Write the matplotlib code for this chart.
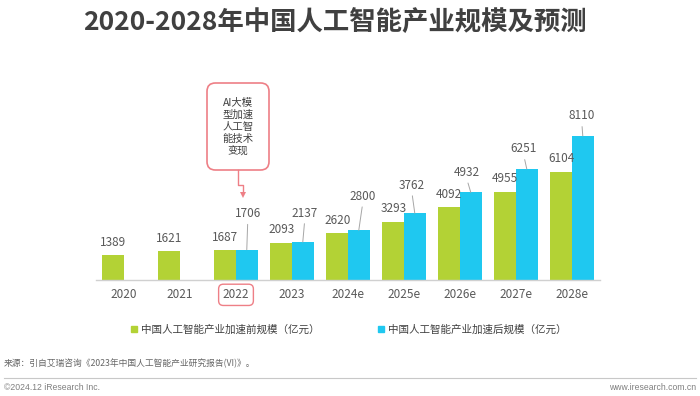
"""2020-2028 China AI industry scale chart, grouped bars with callout."""

import numpy as np
import matplotlib

matplotlib.use("Agg")
import matplotlib.pyplot as plt
from matplotlib.lines import Line2D
from matplotlib.patches import FancyBboxPatch, FancyArrow

plt.rcParams["font.family"] = ["Noto Sans CJK SC", "DejaVu Sans"]

# data
years = ["2020", "2021", "2022", "2023", "2024e", "2025e", "2026e", "2027e", "2028e"]
before_accel = [1389, 1621, 1687, 2093, 2620, 3293, 4092, 4955, 6104]
after_accel = [np.nan, np.nan, 1706, 2137, 2800, 3762, 4932, 6251, 8110]
series_names = ["中国人工智能产业加速前规模（亿元）", "中国人工智能产业加速后规模（亿元）"]
title = "2020-2028年中国人工智能产业规模及预测"
callout = "AI大模\n型加速\n人工智\n能技术\n变现"
source = "来源：引自艾瑞咨询《2023年中国人工智能产业研究报告(VI)》。"

# label nudges for the blue series (pixels: dx, dy above bar top)
blue_offsets = [None, None, (1, 36), (2, 29), (4, 34), (-3, 28), (-4, 20), (-3, 20), (-1, 20)]

GREEN = "#B3D235"
BLUE = "#1FC8F0"
PINK = "#EE7F86"
TEXT = "#595959"

W, H = 700, 396
PT = 72 / 100  # points per pixel at dpi 100


def fx(x):
    return x / W


def fy(y):
    return 1 - y / H


fig = plt.figure(figsize=(7.0, 3.96), dpi=100)
ax = fig.add_axes([fx(96), fy(280), 504 / W, 177.6 / H])

x = np.arange(len(years))
w = 0.385
ax.bar(x - w / 2, before_accel, w, color=GREEN)
ax.bar(x + w / 2, after_accel, w, color=BLUE)

for xi, v in zip(x, before_accel):
    ax.annotate(f"{v}", (xi - w / 2, v), xytext=(0, 13 * PT), textcoords="offset points",
                ha="center", va="center", fontsize=8.5, color=TEXT)

for xi, v, off in zip(x, after_accel, blue_offsets):
    if np.isnan(v):
        continue
    dx, dy = off
    ax.annotate(f"{int(v)}", (xi + w / 2, v), xytext=(dx * PT, dy * PT),
                textcoords="offset points", ha="center", va="center", fontsize=8.5,
                color=TEXT,
                arrowprops=dict(arrowstyle="-", color="#A6A6A6", lw=0.7,
                                relpos=(0.5, 0.0), shrinkA=1, shrinkB=0))

ax.set_xlim(-0.5, len(years) - 0.5)
ax.set_ylim(0, 10000)
ax.set_xticks(x, years)
ax.tick_params(axis="x", length=0, pad=6, labelsize=8.5, labelcolor=TEXT)
ax.set_yticks([])
for side in ("left", "right", "top"):
    ax.spines[side].set_visible(False)
ax.spines["bottom"].set_color("#D0D0D0")
ax.spines["bottom"].set_linewidth(1.0)

# 2022 highlighted tick label
ax.get_xticklabels()[years.index("2022")].set_bbox(
    dict(boxstyle="round,pad=0.35,rounding_size=0.4", fc="none", ec=PINK, lw=1.0))

# title
fig.text(fx(335), fy(23), title, ha="center", va="center", fontsize=19,
         fontweight="bold", color="#404040")

# callout box and elbow arrow
box = FancyBboxPatch((fx(207), fy(170)), fx(62), 87 / H,
                     boxstyle="round,pad=0,rounding_size=0.012",
                     transform=fig.transFigure, fc="white", ec=PINK, lw=1.2,
                     mutation_aspect=W / H)
fig.add_artist(box)
fig.text(fx(238), fy(127), callout, ha="center", va="center", fontsize=7.5,
         color="#404040", linespacing=1.26)
fig.add_artist(Line2D([fx(238), fx(238), fx(243), fx(243)],
                      [fy(170), fy(185), fy(185), fy(192)],
                      transform=fig.transFigure, color=PINK, lw=1.0))
fig.add_artist(FancyArrow(fx(243), fy(191), 0, -7 / H,
                          width=0, head_width=fx(6), head_length=6 / H,
                          length_includes_head=True, transform=fig.transFigure,
                          color=PINK, lw=0))

# legend
handles = [Line2D([], [], marker="s", linestyle="none", markersize=4.5, color=c)
           for c in (GREEN, BLUE)]
fig.legend(handles, series_names, loc="center", bbox_to_anchor=(fx(348), fy(330)),
           ncol=2, frameon=False, fontsize=7.6, labelcolor="#404040",
           handlelength=0.8, handletextpad=0.3, columnspacing=5.4)

# source and footer
fig.text(fx(4), fy(363), source, ha="left", va="center", fontsize=6.3, color="#666666")
fig.add_artist(Line2D([fx(4), fx(696)], [fy(378), fy(378)], transform=fig.transFigure,
                      color="#C8C8C8", lw=0.8))
fig.text(fx(4), fy(388), "©2024.12 iResearch Inc.", ha="left", va="center",
         fontsize=6.2, color="#7F7F7F", family="Liberation Sans")
fig.text(fx(696), fy(388), "www.iresearch.com.cn", ha="right", va="center",
         fontsize=6.2, color="#7F7F7F", family="Liberation Sans")

fig.savefig("out.png", dpi=100, facecolor="white")
